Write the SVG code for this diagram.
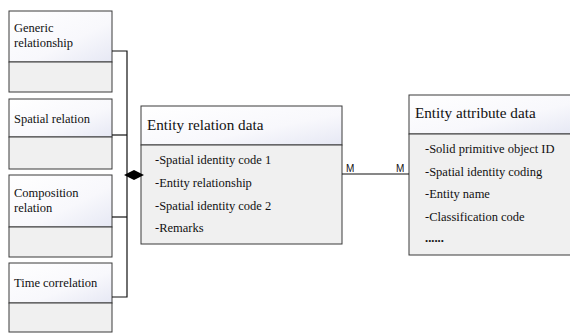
<svg xmlns="http://www.w3.org/2000/svg" width="570" height="333" viewBox="0 0 570 333">
<defs>
<linearGradient id="hdr" x1="0" y1="0" x2="1" y2="1">
<stop offset="0" stop-color="#ffffff"/>
<stop offset="0.6" stop-color="#f8f8fc"/>
<stop offset="1" stop-color="#e6e8f4"/>
</linearGradient>
</defs>
<style>
.hd{fill:url(#hdr);stroke:#3a3a3a;stroke-width:1}
.bd{fill:#f0f0f0;stroke:#3a3a3a;stroke-width:1}
.t{font-family:'Liberation Serif','Times New Roman','DejaVu Serif',serif;font-size:12.5px;fill:#111}
.tt{font-family:'Liberation Serif','Times New Roman','DejaVu Serif',serif;font-size:15.2px;fill:#111}
.m{font-family:'Liberation Sans',Arial,sans-serif;font-size:10px;fill:#111}
.ln{stroke:#111;stroke-width:1.2;fill:none}
</style>
<rect width="570" height="333" fill="#fff"/>
<g id="generic">
<rect class="hd" x="9" y="11" width="103" height="51"/>
<rect class="bd" x="9" y="62" width="103" height="30"/>
<text class="t" x="14" y="32">Generic</text>
<text class="t" x="14" y="47">relationship</text>
</g>
<g id="spatial">
<rect class="hd" x="9" y="99" width="103" height="38"/>
<rect class="bd" x="9" y="137" width="103" height="32"/>
<text class="t" x="14" y="123">Spatial relation</text>
</g>
<g id="composition">
<rect class="hd" x="9" y="175" width="103" height="52"/>
<rect class="bd" x="9" y="227" width="103" height="30"/>
<text class="t" x="14" y="197">Composition</text>
<text class="t" x="14" y="212">relation</text>
</g>
<g id="time">
<rect class="hd" x="9" y="263" width="103" height="40"/>
<rect class="bd" x="9" y="303" width="103" height="29"/>
<text class="t" x="14" y="287">Time correlation</text>
</g>
<g id="relation">
<rect class="hd" x="141" y="106" width="201" height="39"/>
<rect class="bd" x="141" y="145" width="201" height="99"/>
<text class="tt" x="147" y="130">Entity relation data</text>
<text class="t" x="155" y="164">-Spatial identity code 1</text>
<text class="t" x="155" y="187">-Entity relationship</text>
<text class="t" x="155" y="210">-Spatial identity code 2</text>
<text class="t" x="155" y="232">-Remarks</text>
</g>
<g id="attribute">
<rect class="hd" x="409" y="95" width="164" height="39"/>
<rect class="bd" x="409" y="134" width="164" height="121"/>
<text class="tt" x="415" y="118">Entity attribute data</text>
<text class="t" x="425" y="153">-Solid primitive object ID</text>
<text class="t" x="425" y="176">-Spatial identity coding</text>
<text class="t" x="425" y="198">-Entity name</text>
<text class="t" x="425" y="221">-Classification code</text>
<text class="t" x="425" y="242" font-weight="bold">......</text>
</g>
<g id="connectors">
<polyline class="ln" points="112,51 127,51 127,297 112,297"/>
<line class="ln" x1="112" y1="135" x2="127" y2="135"/>
<line class="ln" x1="112" y1="217" x2="127" y2="217"/>
<line class="ln" x1="127" y1="175" x2="141" y2="175"/>
<polygon points="124,175 134,170 144,175 134,180" fill="#000"/>
<line class="ln" x1="342" y1="174" x2="409" y2="174"/>
<text class="m" x="346" y="172">M</text>
<text class="m" x="396" y="172">M</text>
</g>
</svg>
